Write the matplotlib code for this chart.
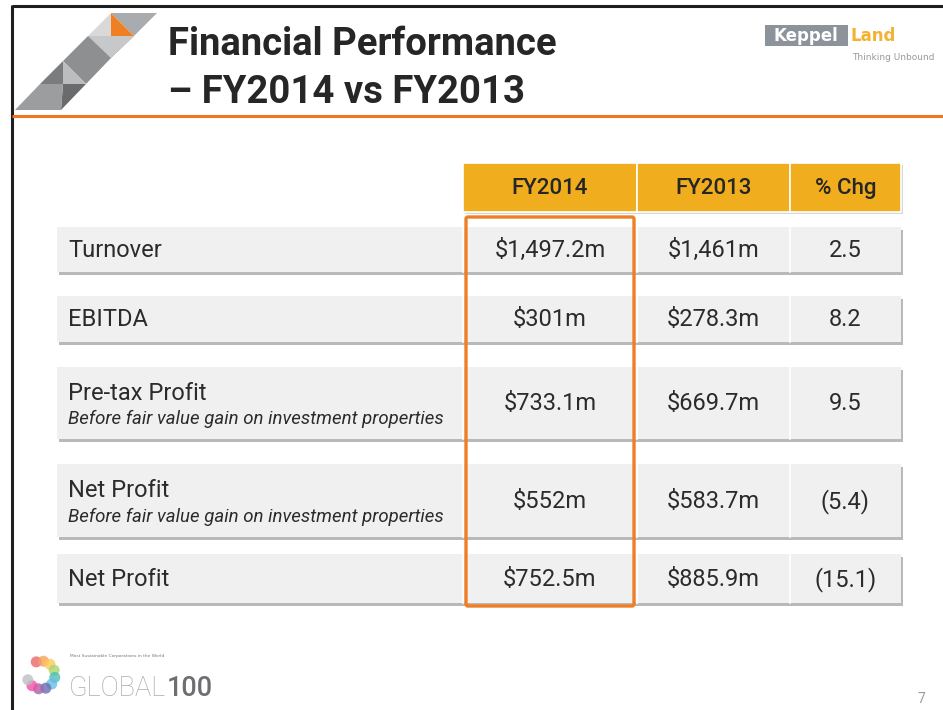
import math
import matplotlib
matplotlib.use("Agg")
import matplotlib.pyplot as plt
from matplotlib.patches import Rectangle, Polygon, FancyBboxPatch, Circle

# ---------------- data ----------------
title_lines = ["Financial Performance", "\u2013 FY2014 vs FY2013"]
col_headers = ["FY2014", "FY2013", "% Chg"]
row_labels = ["Turnover", "EBITDA", "Pre-tax Profit", "Net Profit", "Net Profit"]
row_notes = ["", "", "Before fair value gain on investment properties",
             "Before fair value gain on investment properties", ""]
fy2014 = ["$1,497.2m", "$301m", "$733.1m", "$552m", "$752.5m"]
fy2013 = ["$1,461m", "$278.3m", "$669.7m", "$583.7m", "$885.9m"]
pct_chg = ["2.5", "8.2", "9.5", "(5.4)", "(15.1)"]
page_no = "7"

# ---------------- layout ----------------
W, H = 943, 710
row_top = [227, 296, 367, 464, 554]
row_bot = [272, 342, 439, 537, 603]
tbl_left, tbl_right = 57, 901
col_edges = [463, 637, 790, 901]
hdr_top, hdr_bot = 163, 212

body_font = "Roboto"
txt_col = "#2b2b2b"

fig = plt.figure(figsize=(W / 100, H / 100), dpi=100)
ax = fig.add_axes([0, 0, 1, 1])
ax.set_xlim(0, W)
ax.set_ylim(H, 0)
ax.axis("off")

# borders
ax.plot([12, W], [6, 6], color="#1e1e1e", lw=2.2, solid_capstyle="butt")
ax.plot([12, 12], [5, H], color="#1e1e1e", lw=2.2, solid_capstyle="butt")
ax.plot([12, W], [116, 116], color="#EE7623", lw=2.2, solid_capstyle="butt")

# top-left logo (diagonal band of triangles)
pieces = [
    ([(111, 13), (157, 13), (134, 36)], "#A9ABAE"),
    ([(111, 13), (134, 36), (111, 58)], "#EE7F22"),
    ([(111, 13), (111, 58), (88, 36)], "#D9D9D9"),
    ([(134, 36), (111, 58), (88, 36)], "#C7C8CA"),
    ([(88, 36), (111, 58), (86, 84), (63, 61)], "#8E8F91"),
    ([(63, 61), (86, 84), (63, 84)], "#BCBDBF"),
    ([(63, 61), (63, 84), (40, 84)], "#7B7C7E"),
    ([(63, 84), (86, 84), (61, 110)], "#6A6B6D"),
    ([(40, 84), (63, 84), (61, 110), (15, 110)], "#9C9D9F"),
]
for pts, c in pieces:
    ax.add_patch(Polygon(pts, closed=True, facecolor=c, edgecolor="none"))

# title
for k, line in enumerate(title_lines):
    ax.text(168, 55 + 48 * k, line, fontsize=27.5, fontweight="bold", family=body_font,
            color="#262626", va="baseline", ha="left")

# Keppel Land logo
ax.add_patch(Rectangle((765, 25), 83, 21, facecolor="#8C939B", edgecolor="none"))
ax.text(806, 36, "Keppel", fontsize=12, fontweight="bold", color="white",
        family="DejaVu Sans", ha="center", va="center")
ax.text(851, 36, "Land", fontsize=12, fontweight="bold", color="#F2B233",
        family="DejaVu Sans", ha="left", va="center")
ax.text(852, 58, "Thinking Unbound", fontsize=6.5, color="#9a9a9a",
        family="DejaVu Sans", ha="left", va="center")

# header cells
for i, h in enumerate(col_headers):
    x0, x1 = col_edges[i], col_edges[i + 1]
    ax.add_patch(Rectangle((x0 + 2, hdr_top + 2), x1 - x0, hdr_bot - hdr_top,
                           facecolor="#d6d6d6", edgecolor="none"))
    ax.add_patch(Rectangle((x0, hdr_top), x1 - x0, hdr_bot - hdr_top,
                           facecolor="#F0AE1E", edgecolor="white", lw=1.2))
    ax.text((x0 + x1) / 2, (hdr_top + hdr_bot) / 2 + 1, h, fontsize=16,
            family=body_font, fontweight="medium", color="#262626",
            ha="center", va="center")

# rows
for r in range(len(row_labels)):
    t, b = row_top[r], row_bot[r]
    ax.add_patch(Rectangle((tbl_left + 2, t + 3), tbl_right - tbl_left, b - t,
                           facecolor="#b9b9b9", edgecolor="none"))
    ax.add_patch(Rectangle((tbl_left, t), tbl_right - tbl_left, b - t,
                           facecolor="#F0F0F0", edgecolor="none"))
    for xe in col_edges[:-1]:
        ax.plot([xe, xe], [t, b], color="white", lw=1.2)
    cy = (t + b) / 2
    if row_notes[r]:
        ax.text(68, cy - 10, row_labels[r], fontsize=17, family=body_font,
                color=txt_col, ha="left", va="center")
        ax.text(68, cy + 16, row_notes[r], fontsize=13.4, family=body_font,
                style="italic", color=txt_col, ha="left", va="center")
    else:
        ax.text(68, cy + 1, row_labels[r], fontsize=17, family=body_font,
                color=txt_col, ha="left", va="center")
    vals = [fy2014[r], fy2013[r], pct_chg[r]]
    for i, v in enumerate(vals):
        x0, x1 = col_edges[i], col_edges[i + 1]
        ax.text((x0 + x1) / 2, cy + 1, v, fontsize=17, family=body_font,
                color=txt_col, ha="center", va="center")

# orange highlight box
ax.add_patch(FancyBboxPatch((466, 217), 634 - 466, 606 - 217,
                            boxstyle="round,pad=0,rounding_size=2",
                            facecolor="none", edgecolor="#F07E26", lw=2.4))

# GLOBAL100 logo
ring_cols = ["#E8686B", "#F7A15A", "#FDCB55", "#A9D46E", "#4DBDB5", "#62BEE8",
             "#6A6DB0", "#A862A8", "#F04FA8", "#BFC0C2"]
for k, c in enumerate(ring_cols):
    a = math.radians(110 - k * 30)
    ax.add_patch(Circle((41 + 14 * math.cos(a), 675 - 14 * math.sin(a)), 5.5,
                        facecolor=c, edgecolor="none", alpha=0.8))
ax.text(70, 656, "Most Sustainable Corporations in the World", fontsize=3.2,
        color="#777777", ha="left", va="center")
g = ax.text(69, 696, "GLOBAL", fontsize=19.5, color="#a9abb0", family=body_font,
            fontweight="light", ha="left", va="baseline")
ax.annotate("100", xy=(1, 0), xycoords=g, xytext=(0.5, 0), textcoords="offset points",
            fontsize=19.5, color="#6d6e71", family=body_font, fontweight="medium",
            ha="left", va="bottom")

ax.text(921, 699, page_no, fontsize=10, color="#9a9a9a", ha="center", va="center",
        family=body_font)

fig.savefig("out.png", dpi=100)
